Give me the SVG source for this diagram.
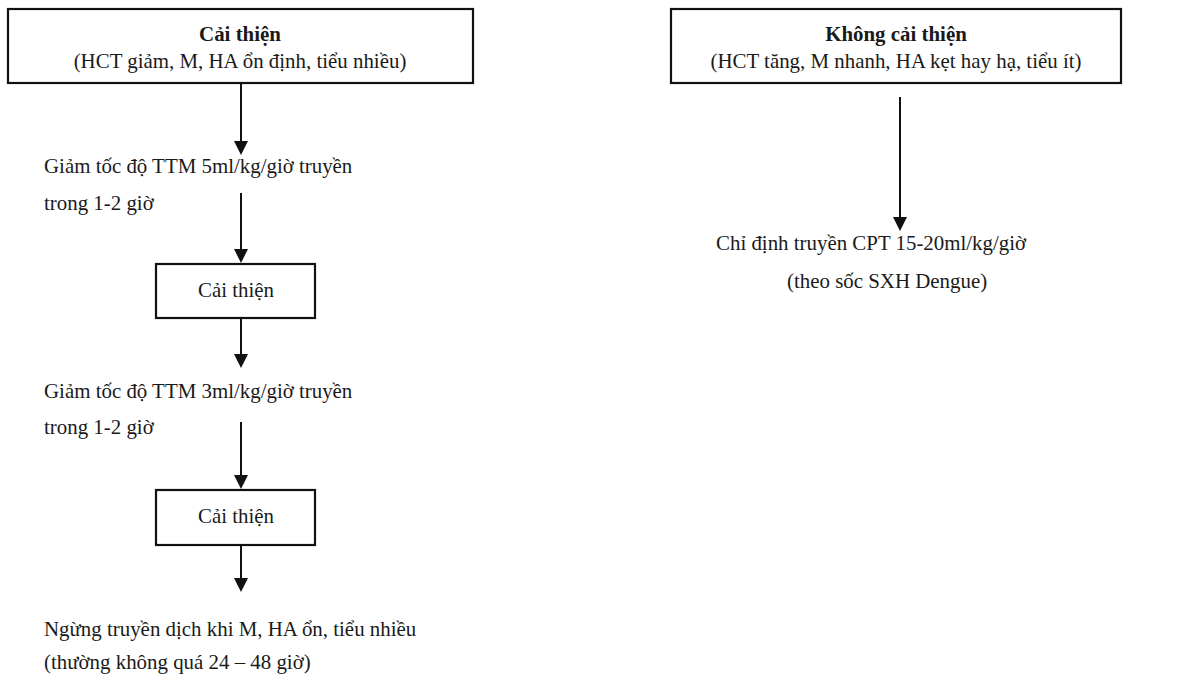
<svg xmlns="http://www.w3.org/2000/svg" width="1198" height="679" viewBox="0 0 1198 679">
  <style>
    .box { fill: #fff; stroke: #111; stroke-width: 2.2; }
    .t { font-family: "Liberation Serif", "Times New Roman", serif; font-size: 20.9px; fill: #1a1a1a; }
    .b { font-weight: bold; }
    .c { text-anchor: middle; }
    .wire { stroke: #111; stroke-width: 2; fill: none; }
    .head { fill: #111; }
  </style>
  <rect width="1198" height="679" fill="#fff"/>

  <!-- connectors: vertical lines with solid triangular heads -->
  <g id="connectors">
    <path class="wire" d="M241,83 V145"/>
    <path class="head" d="M234,141 L248,141 L241,155 Z"/>
    <path class="wire" d="M241,193 V253"/>
    <path class="head" d="M234,249 L248,249 L241,263 Z"/>
    <path class="wire" d="M241,318 V358"/>
    <path class="head" d="M234,354 L248,354 L241,368 Z"/>
    <path class="wire" d="M241,422 V479"/>
    <path class="head" d="M234,475 L248,475 L241,489 Z"/>
    <path class="wire" d="M241,545 V582"/>
    <path class="head" d="M234,578 L248,578 L241,592 Z"/>
    <path class="wire" d="M900,97 V221"/>
    <path class="head" d="M893,217 L907,217 L900,231 Z"/>
  </g>

  <g id="improved">
    <rect class="box" x="8" y="9" width="465" height="74"/>
    <text class="t b c" x="240" y="41">Cải thiện</text>
    <text class="t c" x="240" y="68">(HCT giảm, M, HA ổn định, tiểu nhiều)</text>
  </g>

  <g id="not-improved">
    <rect class="box" x="671" y="9" width="450" height="74"/>
    <text class="t b c" x="896" y="41">Không cải thiện</text>
    <text class="t c" x="896" y="68">(HCT tăng, M nhanh, HA kẹt hay hạ, tiểu ít)</text>
  </g>

  <g id="reduce-5">
    <text class="t" x="44" y="173">Giảm tốc độ TTM 5ml/kg/giờ truyền</text>
    <text class="t" x="44" y="210">trong 1-2 giờ</text>
  </g>

  <g id="improved-1">
    <rect class="box" x="156" y="264" width="159" height="54"/>
    <text class="t c" x="236" y="297">Cải thiện</text>
  </g>

  <g id="reduce-3">
    <text class="t" x="44" y="398">Giảm tốc độ TTM 3ml/kg/giờ truyền</text>
    <text class="t" x="44" y="434">trong 1-2 giờ</text>
  </g>

  <g id="improved-2">
    <rect class="box" x="156" y="490" width="159" height="55"/>
    <text class="t c" x="236" y="523">Cải thiện</text>
  </g>

  <g id="stop">
    <text class="t" x="44" y="636">Ngừng truyền dịch khi M, HA ổn, tiểu nhiều</text>
    <text class="t" x="44" y="669">(thường không quá 24 – 48 giờ)</text>
  </g>

  <g id="colloid">
    <text class="t" x="716" y="250">Chỉ định truyền CPT 15-20ml/kg/giờ</text>
    <text class="t" x="787" y="288">(theo sốc SXH Dengue)</text>
  </g>
</svg>
